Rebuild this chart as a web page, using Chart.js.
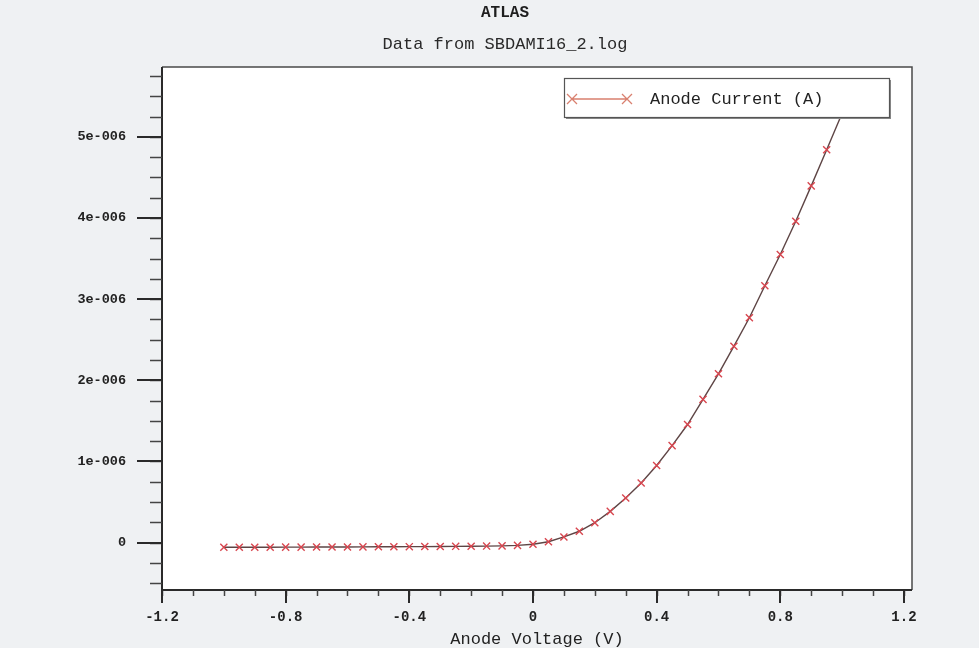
<!DOCTYPE html>
<html>
<head>
<meta charset="utf-8">
<title>ATLAS - Anode Current</title>
<script src="https://cdn.jsdelivr.net/npm/chart.js@4.4.1/dist/chart.umd.min.js"></script>
<style>
  html, body { margin: 0; padding: 0; background: #eff1f3; }
  #wrap { width: 979px; height: 648px; position: relative; }
  canvas { display: block; }
</style>
</head>
<body>
<div id="wrap"><canvas id="iv" width="979" height="648"></canvas></div>
<script>
// Anode sweep (V)
const anodeVoltage = [
  -1.00, -0.95, -0.90, -0.85, -0.80, -0.75, -0.70, -0.65, -0.60, -0.55,
  -0.50, -0.45, -0.40, -0.35, -0.30, -0.25, -0.20, -0.15, -0.10, -0.05,
   0.00,  0.05,  0.10,  0.15,  0.20,  0.25,  0.30,  0.35,  0.40,  0.45,
   0.50,  0.55,  0.60,  0.65,  0.70,  0.75,  0.80,  0.85,  0.90,  0.95,
   1.00
];
// Anode current in microamps (converted to A below)
const anodeCurrentMicroA = [
  -0.058, -0.058, -0.057, -0.057, -0.056, -0.056, -0.055, -0.054, -0.054, -0.053,
  -0.052, -0.051, -0.050, -0.049, -0.048, -0.046, -0.045, -0.043, -0.040, -0.034,
  -0.020,  0.010,  0.070,  0.140,  0.245,  0.385,  0.550,  0.735,  0.950,  1.195,
   1.455,  1.765,  2.080,  2.420,  2.770,  3.165,  3.550,  3.960,  4.395,  4.840,
   5.290
];

// Axis ticks and labels
const xMajorTicks = [-1.2, -0.8, -0.4, 0, 0.4, 0.8, 1.2];
const xTickLabels = ['-1.2', '-0.8', '-0.4', '0', '0.4', '0.8', '1.2'];
const yMajorTicks = [0, 1e-6, 2e-6, 3e-6, 4e-6, 5e-6];
const yTickLabels = ['0', '1e-006', '2e-006', '3e-006', '4e-006', '5e-006'];

const MONO = "'Liberation Mono', 'Courier New', monospace";
const xMinorStep = 0.1;
const yMinorStep = 0.25e-6;

// White plotting field
const plotField = {
  id: 'plotField',
  beforeDraw(chart) {
    const { ctx, chartArea: a } = chart;
    ctx.save();
    ctx.fillStyle = '#ffffff';
    ctx.fillRect(a.left, a.top, a.right - a.left, a.bottom - a.top);
    ctx.restore();
  }
};

// Frame plus outward major/minor tick marks
const frameTicks = {
  id: 'frameTicks',
  beforeDatasetsDraw(chart) {
    const { ctx, chartArea: a, scales: { x, y } } = chart;
    ctx.save();
    // top / right edges
    ctx.strokeStyle = '#4a4a4a';
    ctx.lineWidth = 1.5;
    ctx.beginPath();
    ctx.moveTo(a.left, a.top); ctx.lineTo(a.right, a.top); ctx.lineTo(a.right, a.bottom);
    ctx.stroke();
    // axis lines
    ctx.strokeStyle = '#2a2a2a';
    ctx.lineWidth = 2;
    ctx.beginPath();
    ctx.moveTo(a.left, a.top); ctx.lineTo(a.left, a.bottom); ctx.lineTo(a.right, a.bottom);
    ctx.stroke();

    // x minor ticks
    ctx.strokeStyle = '#444';
    ctx.lineWidth = 1.5;
    ctx.beginPath();
    for (let k = Math.ceil(x.min / xMinorStep - 1e-9); k * xMinorStep <= x.max + 1e-9; k++) {
      const px = Math.round(x.getPixelForValue(k * xMinorStep)) + 0.5;
      ctx.moveTo(px, a.bottom); ctx.lineTo(px, a.bottom + 6);
    }
    // y minor ticks
    for (let k = Math.ceil(y.min / yMinorStep - 1e-9); k * yMinorStep <= y.max + 1e-15; k++) {
      const py = Math.round(y.getPixelForValue(k * yMinorStep)) + 0.5;
      ctx.moveTo(a.left, py); ctx.lineTo(a.left - 12, py);
    }
    ctx.stroke();

    // major ticks
    ctx.strokeStyle = '#2a2a2a';
    ctx.lineWidth = 2;
    ctx.beginPath();
    xMajorTicks.forEach(v => {
      const px = Math.round(x.getPixelForValue(v));
      ctx.moveTo(px, a.bottom); ctx.lineTo(px, a.bottom + 13);
    });
    yMajorTicks.forEach(v => {
      const py = Math.round(y.getPixelForValue(v));
      ctx.moveTo(a.left, py); ctx.lineTo(a.left - 25, py);
    });
    ctx.stroke();
    ctx.restore();
  }
};

// Boxed legend in the upper right of the plot
const boxedLegend = {
  id: 'boxedLegend',
  afterDatasetsDraw(chart) {
    const { ctx } = chart;
    const ds = chart.data.datasets[0];
    const bx = 564, by = 78, bw = 325, bh = 39;
    ctx.save();
    // shadow
    ctx.fillStyle = '#8a8a8a';
    ctx.fillRect(bx + 2, by + 2, bw, bh);
    ctx.fillStyle = '#ffffff';
    ctx.fillRect(bx, by, bw, bh);
    ctx.strokeStyle = '#555';
    ctx.lineWidth = 1.2;
    ctx.strokeRect(bx + 0.5, by + 0.5, bw, bh);

    const cy = by + 21;
    const x0 = bx + 8, x1 = bx + 63;
    ctx.strokeStyle = '#d9806f';
    ctx.lineWidth = 1.3;
    ctx.beginPath();
    ctx.moveTo(x0, cy); ctx.lineTo(x1, cy);
    [x0, x1].forEach(px => {
      ctx.moveTo(px - 5, cy - 5); ctx.lineTo(px + 5, cy + 5);
      ctx.moveTo(px - 5, cy + 5); ctx.lineTo(px + 5, cy - 5);
    });
    ctx.stroke();

    ctx.fillStyle = '#222';
    ctx.font = '17px ' + MONO;
    ctx.textBaseline = 'middle';
    ctx.textAlign = 'left';
    ctx.fillText(ds.label, bx + 86, cy);
    ctx.restore();
  }
};

const points = anodeVoltage.map((v, i) => ({ x: v, y: anodeCurrentMicroA[i] * 1e-6 }));

new Chart(document.getElementById('iv'), {
  type: 'line',
  data: {
    datasets: [{
      label: 'Anode Current (A)',
      data: points,
      borderColor: '#5e4545',
      borderWidth: 1.4,
      tension: 0,
      pointStyle: 'crossRot',
      pointRadius: 5,
      pointBorderColor: '#d8464f',
      pointBorderWidth: 1.4,
      pointBackgroundColor: '#d8464f'
    }]
  },
  options: {
    responsive: false,
    animation: false,
    layout: { padding: { left: 31, right: 0, top: 0, bottom: 0 } },
    plugins: {
      legend: { display: false },
      tooltip: { enabled: false },
      title: {
        display: true,
        text: 'ATLAS',
        color: '#1e1e1e',
        font: { family: MONO, size: 16, weight: 'bold', lineHeight: 1.2 },
        padding: { top: 3, bottom: 2 }
      },
      subtitle: {
        display: true,
        text: 'Data from SBDAMI16_2.log',
        color: '#2a2a2a',
        font: { family: MONO, size: 17, lineHeight: 1.2 },
        padding: { top: 10, bottom: 12.4 }
      }
    },
    scales: {
      x: {
        type: 'linear',
        min: -1.2,
        max: 1.226,
        grid: { display: false },
        border: { display: false },
        afterBuildTicks: s => { s.ticks = xMajorTicks.map(v => ({ value: v })); },
        afterFit: s => { s.height = 58; },
        ticks: {
          autoSkip: false,
          maxRotation: 0,
          padding: 11,
          color: '#222',
          font: { family: MONO, size: 14, weight: 'bold' },
          callback: (v, i) => xTickLabels[i]
        },
        title: {
          display: true,
          text: 'Anode Voltage (V)',
          color: '#222',
          font: { family: MONO, size: 17, lineHeight: 1 },
          padding: { top: 0, bottom: 0 }
        }
      },
      y: {
        type: 'linear',
        position: 'left',
        min: -0.584e-6,
        max: 5.86e-6,
        grid: { display: false },
        border: { display: false },
        afterBuildTicks: s => { s.ticks = yMajorTicks.map(v => ({ value: v })); },
        afterFit: s => { s.width = 131; },
        ticks: {
          autoSkip: false,
          padding: 28,
          color: '#222',
          font: { family: MONO, size: 13.5, weight: 'bold' },
          callback: (v, i) => yTickLabels[i]
        }
      },
      // empty right-hand margin beside the plot frame
      yRight: {
        type: 'linear',
        position: 'right',
        min: 0,
        max: 1,
        grid: { display: false },
        border: { display: false },
        ticks: { display: false },
        afterFit: s => { s.width = 67; }
      }
    }
  },
  plugins: [plotField, frameTicks, boxedLegend]
});
</script>
</body>
</html>
